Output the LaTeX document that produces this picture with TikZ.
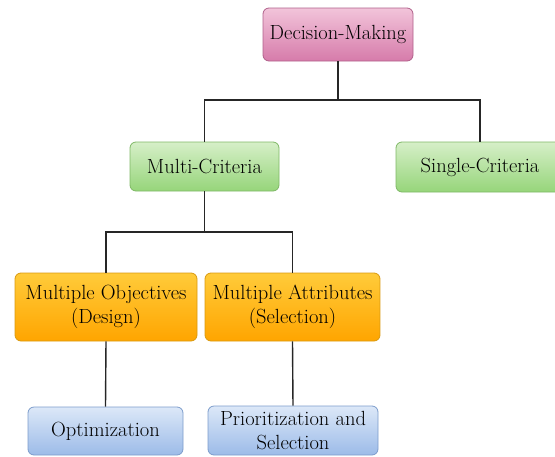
\documentclass[tikz,border=0pt]{standalone}
\definecolor{pinkT}{HTML}{F2C4DA}
\definecolor{pinkB}{HTML}{D67BAA}
\definecolor{pinkD}{HTML}{B0608A}
\definecolor{greenT}{HTML}{D6EFC8}
\definecolor{greenB}{HTML}{96D57A}
\definecolor{greenD}{HTML}{7FB866}
\definecolor{orT}{HTML}{FFCB3A}
\definecolor{orB}{HTML}{FFA500}
\definecolor{orD}{HTML}{D99A10}
\definecolor{blT}{HTML}{DCE8F8}
\definecolor{blB}{HTML}{9CBBE8}
\definecolor{blD}{HTML}{7C9CCB}
\begin{document}
\begin{tikzpicture}[x=1pt,y=-1pt,
  box/.style={rounded corners=6pt, align=center, inner sep=0pt, line width=0.8pt,
    font=\rmfamily\fontsize{20.5}{24.5}\selectfont, text=black},
  pinkbox/.style={box, draw=pinkD, top color=pinkT, bottom color=pinkB},
  greenbox/.style={box, draw=greenD, top color=greenT, bottom color=greenB},
  orangebox/.style={box, draw=orD, top color=orT, bottom color=orB},
  bluebox/.style={box, draw=blD, top color=blT, bottom color=blB},
  conn/.style={line width=1.4pt, draw=black!85}]
\useasboundingbox (0,0) rectangle (555,456);
\node[pinkbox, minimum width=150pt, minimum height=53pt] (dm) at (338,34.5) {Decision-Making};
\node[greenbox, minimum width=149pt, minimum height=49pt] (mc) at (204.5,166.5) {Multi-Criteria};
\node[greenbox, minimum width=168pt, minimum height=50pt] (sc) at (480,167) {Single-Criteria};
\node[orangebox, minimum width=182pt, minimum height=68pt] (mo) at (106,307) {Multiple Objectives\\(Design)};
\node[orangebox, minimum width=175pt, minimum height=68pt] (ma) at (292.5,307) {Multiple Attributes\\(Selection)};
\node[bluebox, minimum width=155pt, minimum height=48pt] (op) at (105.5,431) {Optimization};
\node[bluebox, minimum width=170pt, minimum height=49pt] (pr) at (293,430.5) {Prioritization and\\Selection};
\coordinate (j1) at (338,100);
\coordinate (j2) at (204.5,232);
\draw[conn] (dm.south) -- (j1);
\draw[conn] (j1) -| (mc.north);
\draw[conn] (j1) -| (sc.north);
\draw[conn] (mc.south) -- (j2);
\draw[conn] (j2) -| (mo.north);
\draw[conn] (j2) -| (ma.north);
\draw[conn] (mo.south) -- (op.north);
\draw[conn] (ma.south) -- (pr.north);
\end{tikzpicture}
\end{document}
